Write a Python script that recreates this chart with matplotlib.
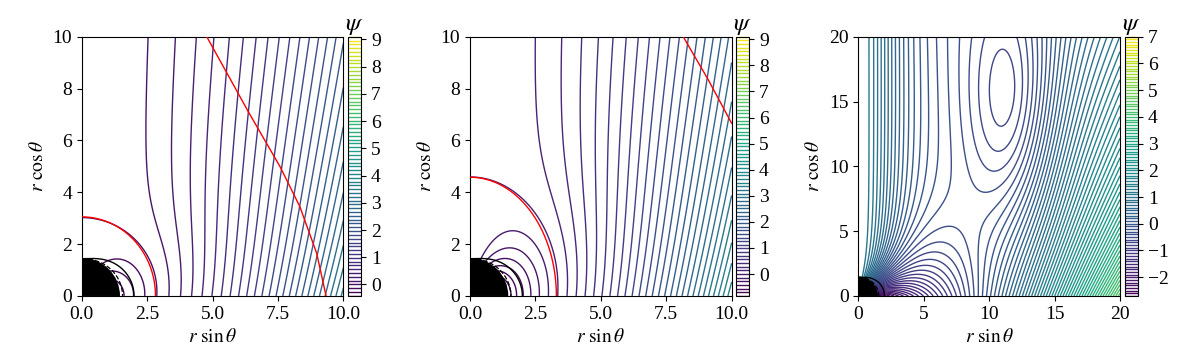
import numpy as np
import matplotlib.pyplot as plt
from matplotlib.colors import Normalize
from matplotlib.patches import Wedge

plt.rcParams['font.family'] = ['Liberation Serif', 'DejaVu Serif']
plt.rcParams['mathtext.fontset'] = 'stix'
plt.rcParams['font.size'] = 14

# black hole spin -> horizon and ergosphere
spin = 0.9
r_plus = 1 + np.sqrt(1 - spin**2)

# axes, ticks and psi levels of the three panels
box = [10, 10, 20]
xticks = [[0, 2.5, 5, 7.5, 10], [0, 2.5, 5, 7.5, 10], [0, 5, 10, 15, 20]]
xticklabels = [['0.0', '2.5', '5.0', '7.5', '10.0'],
               ['0.0', '2.5', '5.0', '7.5', '10.0'],
               ['0', '5', '10', '15', '20']]
yticks = [[0, 2, 4, 6, 8, 10], [0, 2, 4, 6, 8, 10], [0, 5, 10, 15, 20]]
cb_ticks = [list(range(0, 10)), list(range(0, 10)), list(range(-2, 8))]
dpsi = [0.14, 0.14, 0.1]
n_below = [3, 6, 27]      # levels below psi = 0
n_above = [65, 65, 70]    # levels above psi = 0

# panels 1, 2: vertical field + loops anchored on the hole
B_ext = [0.035, 0.039]
L_div = [18.0, 18.0]
r_sep = [2.87, 3.35]      # where the separatrix meets the equator
q_str = [1.0, 1.27]       # pole/equator stretch of the separatrix

# panel 3: jet near axis, flux rope (O-point), outer field
p3_base = -2.0
p3_jet = 3.3
p3_rc = 3.0
p3_k = 0.054
p3_pow = 1.6
p3_L = 30.0
p3_well = 0.8
p3_o = (11.9, 14.0)
p3_size = (3.5, 10.0)
p3_loop = 1.0

# light surfaces (red)
ls_in_a = [2.82, 3.3]
ls_in_b = [3.05, 4.58]
ls_out_x = [[4.78, 6.4, 7.58, 8.34, 8.98, 9.34], [8.15, 9.1, 10.0]]
ls_out_z = [[10.0, 7.05, 4.99, 3.44, 1.65, 0.0], [10.0, 8.35, 6.66]]

n = 600


def grid(s):
    v = np.linspace(0, s, n)
    X, Z = np.meshgrid(v, v)
    return X, Z, np.hypot(X, Z)


def psi_panel(i):
    X, Z, R = grid(box[i])
    with np.errstate(divide='ignore', invalid='ignore'):
        if i < 2:
            mu = B_ext[i] * r_sep[i]**3
            rho = np.sqrt(X**2 + (Z / q_str[i])**2)
            psi = B_ext[i] * X**2 / (1 + Z / L_div[i]) - mu * X**2 / rho**3
        else:
            g = Z / np.sqrt(Z**2 + X**2 * (1 + (R / p3_rc)**2))
            well = np.exp(-((X - p3_o[0]) / p3_size[0])**2
                          - ((Z - p3_o[1]) / p3_size[1])**2)
            ext = p3_k * (X / (1 + Z / p3_L))**p3_pow
            psi = (p3_base + p3_jet * g + ext
                   - p3_well * well - p3_loop * X**2 / R**3)
    psi = np.ma.masked_where(R < r_plus, psi)
    return X, Z, psi


fig = plt.figure(figsize=(12, 3.6), dpi=100)
ax_left = [0.0681, 0.3917, 0.7153]
cb_left = [0.290, 0.6133, 0.9375]
th = np.linspace(0, np.pi / 2, 200)
r_erg = 1 + np.sqrt(1 - spin**2 * np.cos(th)**2)
r_dash = r_plus + 0.22 * (r_erg - r_plus)

for i in range(3):
    ax = fig.add_axes([ax_left[i], 0.178, 0.218, 0.720])
    cax = fig.add_axes([cb_left[i], 0.178, 0.011, 0.720])
    X, Z, psi = psi_panel(i)
    levels = dpsi[i] * np.arange(-n_below[i], n_above[i] + 1)
    cs = ax.contour(X, Z, psi, levels=levels, cmap='viridis',
                    norm=Normalize(levels[0], levels[-1]), linewidths=1.0)
    ax.add_patch(Wedge((0, 0), r_plus, 0, 90, color='k', zorder=4))
    ax.plot(r_erg * np.sin(th), r_erg * np.cos(th), 'k-', lw=1, zorder=5)
    ax.plot(r_dash * np.sin(th), r_dash * np.cos(th), color='k', ls='--',
            lw=0.9, zorder=5)
    if i < 2:
        ax.plot(ls_in_a[i] * np.sin(th), ls_in_b[i] * np.cos(th), 'r-', lw=1,
                zorder=6)
        ax.plot(ls_out_x[i], ls_out_z[i], 'r-', lw=1, zorder=6)
    ax.set_xlim(0, box[i])
    ax.set_ylim(0, box[i])
    ax.set_xticks(xticks[i])
    ax.set_xticklabels(xticklabels[i])
    ax.set_yticks(yticks[i])
    ax.set_xlabel(r'$r\ \sin\theta$')
    ax.set_ylabel(r'$r\ \cos\theta$')
    cb = fig.colorbar(cs, cax=cax)
    cb.set_ticks(cb_ticks[i])
    cb.ax.set_yticklabels([str(t).replace('-', '\u2212') for t in cb_ticks[i]])
    cb.ax.set_title(r'$\psi$', fontsize=18, pad=3)

fig.savefig('out.png', dpi=100)
